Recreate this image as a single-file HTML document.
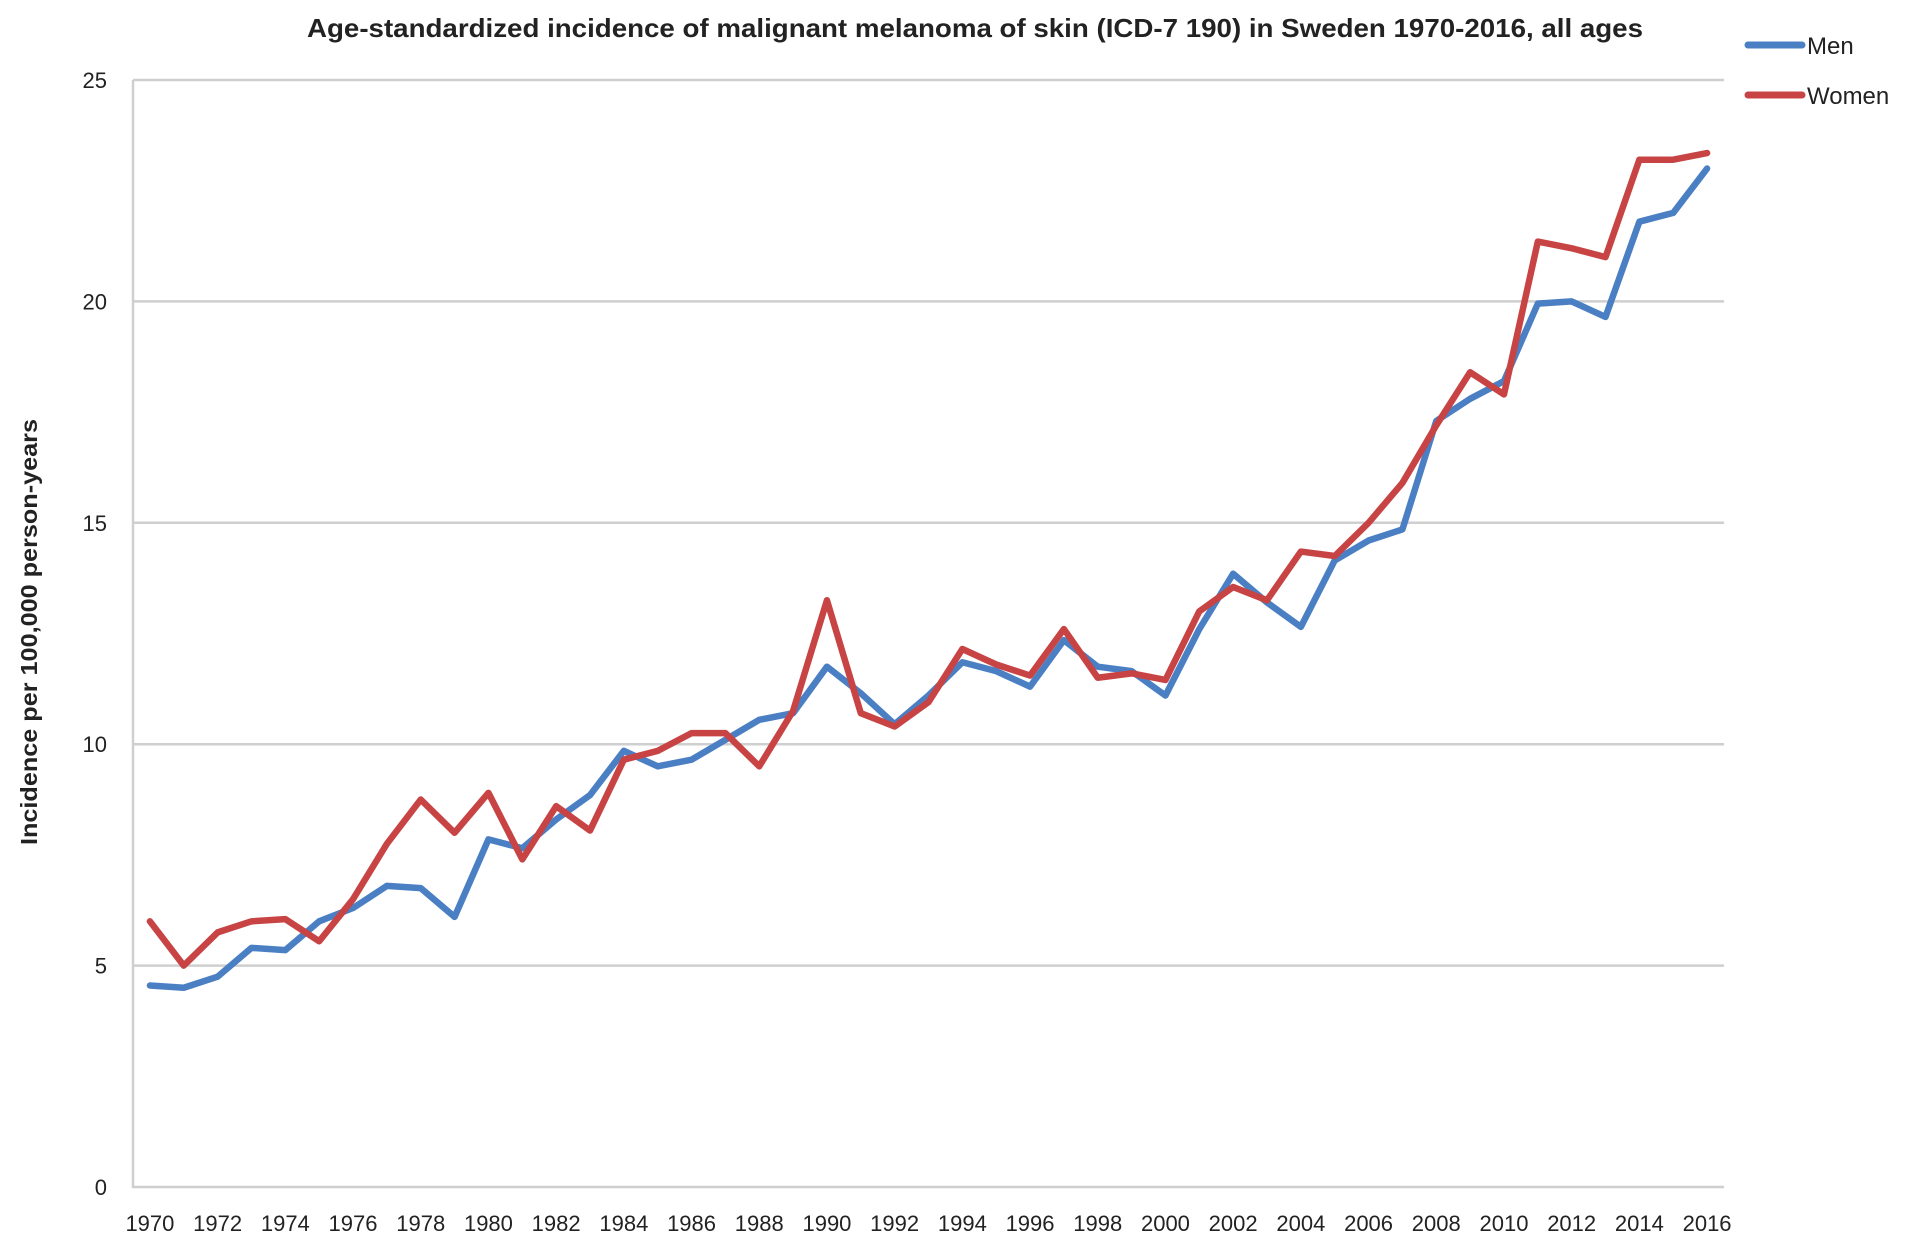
<!DOCTYPE html>
<html><head><meta charset="utf-8"><style>
body{margin:0;background:#fff;}
svg{display:block;font-family:"Liberation Sans",sans-serif;}
</style></head><body>
<svg id="chart" width="1913" height="1252">
<text x="975" y="37" text-anchor="middle" font-size="26" font-weight="bold" fill="#222" textLength="1336" lengthAdjust="spacingAndGlyphs">Age-standardized incidence of malignant melanoma of skin (ICD-7 190) in Sweden 1970-2016, all ages</text>
<text transform="translate(37,632) rotate(-90)" text-anchor="middle" font-size="23" font-weight="bold" fill="#222" textLength="426" lengthAdjust="spacingAndGlyphs">Incidence per 100,000 person-years</text>
<g id="grid"></g><g id="axes"></g><g id="series"></g>
<g>
<line x1="1748" y1="45" x2="1802" y2="45" stroke="#4a7fc4" stroke-width="7" stroke-linecap="round"/>
<text x="1807" y="54" font-size="24" fill="#222">Men</text>
<line x1="1748" y1="95" x2="1802" y2="95" stroke="#c84444" stroke-width="7" stroke-linecap="round"/>
<text x="1807" y="104" font-size="24" fill="#222">Women</text>
</g>
</svg>
<script>
const years=[];for(let y=1970;y<=2016;y++)years.push(y);
const men=[4.55,4.5,4.75,5.4,5.35,6.0,6.3,6.8,6.75,6.1,7.85,7.65,8.3,8.85,9.85,9.5,9.65,10.1,10.55,10.7,11.75,11.15,10.45,11.1,11.85,11.65,11.3,12.35,11.75,11.65,11.1,12.6,13.85,13.2,12.65,14.15,14.6,14.85,17.3,17.8,18.2,19.95,20.0,19.65,21.8,22.0,23.0];
const women=[6.0,5.0,5.75,6.0,6.05,5.55,6.5,7.75,8.75,8.0,8.9,7.4,8.6,8.05,9.65,9.85,10.25,10.25,9.5,10.75,13.25,10.7,10.4,10.95,12.15,11.8,11.55,12.6,11.5,11.6,11.45,13.0,13.55,13.25,14.35,14.25,15.0,15.9,17.2,18.4,17.9,21.35,21.2,21.0,23.2,23.2,23.35];
const yTicks=[0,5,10,15,20,25];
const L=133,R=1724,T=80,B=1187,ns="http://www.w3.org/2000/svg";
const bw=(R-L)/years.length;
const xs=i=>L+bw*(i+0.5);
const ys=v=>B-(v/25)*(B-T);
function mk(t,a,p){const e=document.createElementNS(ns,t);for(const k in a)e.setAttribute(k,a[k]);p.appendChild(e);return e;}
const grid=document.getElementById('grid'),axes=document.getElementById('axes'),ser=document.getElementById('series');
yTicks.forEach(v=>{
 if(v>0){const g=mk('line',{x1:L,x2:R,y1:ys(v),y2:ys(v),stroke:'#cfcfcf','stroke-width':2.5},grid);
 
 }
 const t=mk('text',{x:107,y:ys(v)+8,'text-anchor':'end','font-size':22,fill:'#222'},axes);t.textContent=v;
 
 
});
const ax=mk('path',{d:`M${L},${T} V${B} H${R}`,fill:'none',stroke:'#cfcfcf','stroke-width':2.5},axes);


years.forEach((y,i)=>{if(i%2)return;
 const t=mk('text',{x:xs(i),y:1231,'text-anchor':'middle','font-size':22,fill:'#222'},axes);t.textContent=y;
 
 
});
[[men,'#4a7fc4','men-line'],[women,'#c84444','women-line']].forEach(([d,c,n])=>{
 const p=mk('polyline',{points:d.map((v,i)=>xs(i)+','+ys(v)).join(' '),fill:'none',stroke:c,'stroke-width':6.5,'stroke-linejoin':'round','stroke-linecap':'round'},ser);
 
 
});
</script>
</body></html>
